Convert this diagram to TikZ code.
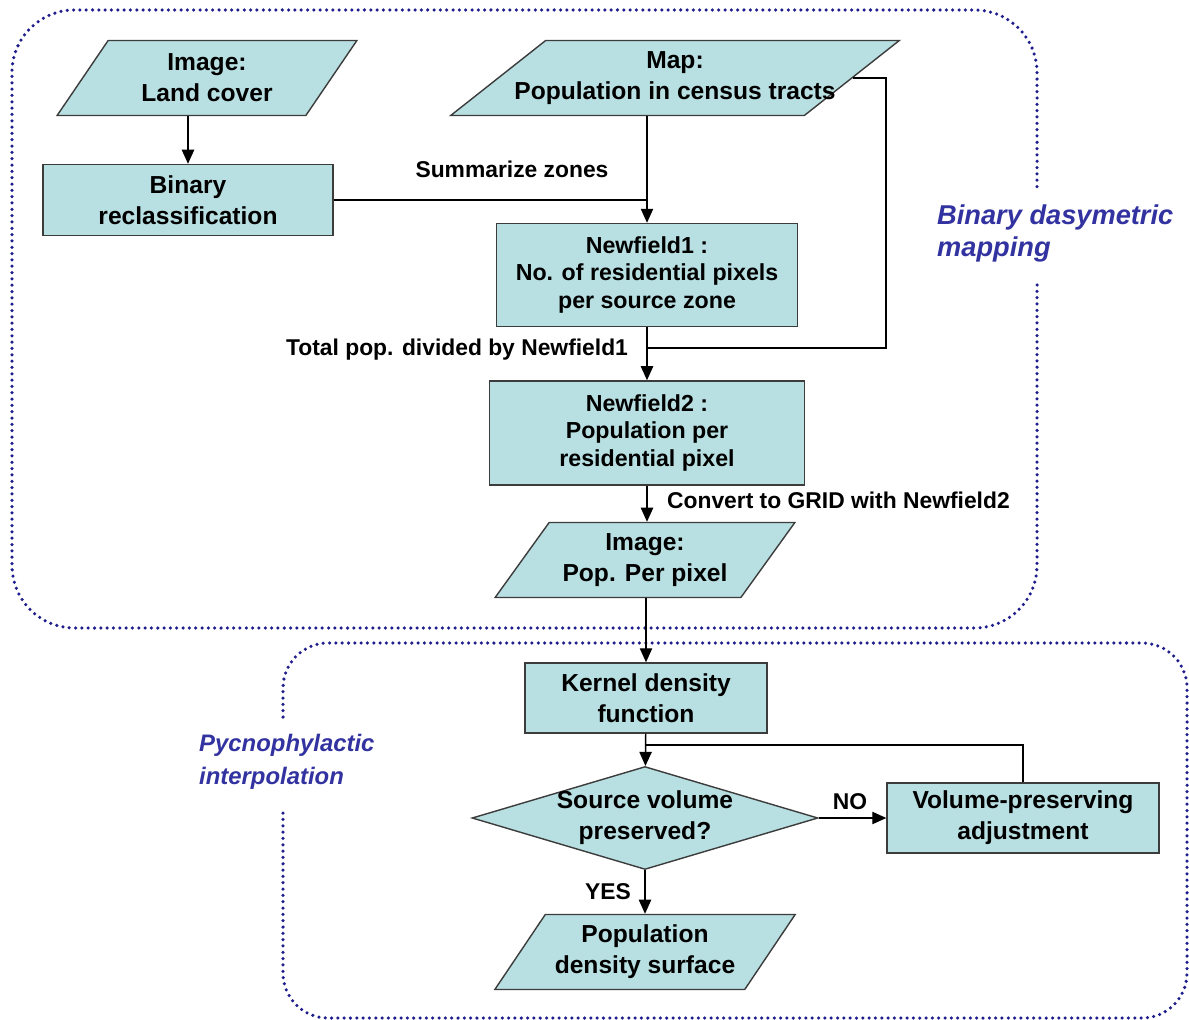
\documentclass[tikz,border=0pt]{standalone}
\usepackage{fontspec}
\setmainfont{Liberation Sans}
\usetikzlibrary{shapes.geometric, positioning, arrows.meta}

\definecolor{boxfill}{RGB}{184,223,225}
\definecolor{boxline}{RGB}{60,60,60}
\definecolor{framedots}{RGB}{30,30,140}
\definecolor{areatext}{RGB}{50,50,160}

\tikzset{
  box/.style={draw=boxline, fill=boxfill, rectangle, line width=0.8pt,
    align=center, inner sep=2pt, font=\fontsize{14}{17.5}\selectfont\bfseries},
  threelines/.style={font=\fontsize{13.2}{15.6}\selectfont\bfseries},
  datashape/.style 2 args={box, trapezium, trapezium stretches=true,
    trapezium left angle=#1, trapezium right angle=#2},
  decision/.style={box, diamond, aspect=3.36, inner xsep=-4pt, inner ysep=0pt},
  flow/.style={draw=black, line width=0.8pt, -{Triangle[length=8pt,width=7pt]}},
  joinline/.style={draw=black, line width=0.8pt},
  steplabel/.style={font=\fontsize{13}{15}\selectfont\bfseries, inner sep=1pt},
  arealabel/.style={text=areatext, align=left},
  frame/.style={draw=framedots, line width=2pt, line cap=round,
    dash pattern=on 0pt off 3.6pt}
}

\begin{document}
\begin{tikzpicture}[x=0.02cm, y=-0.02cm]
  \useasboundingbox (0,0) rectangle (1189,1020);

  % dotted areas
  \draw[frame, rounded corners=1.25cm] (1037,285) -- (1037,628) -- (12,628)
    -- (12,10) -- (1037,10) -- (1037,190);
  \draw[frame, rounded corners=0.9cm] (283,717) -- (283,643) -- (1187,643)
    -- (1187,1018) -- (283,1018) -- (283,812);

  \node[arealabel, anchor=west, font=\fontsize{15.5}{18.2}\selectfont\bfseries\itshape]
    (dasy) at (931,233) {Binary dasymetric\\mapping};
  \node[arealabel, anchor=west, font=\fontsize{13.6}{18.6}\selectfont\bfseries\itshape]
    (pycno) at (193,762) {Pycnophylactic\\interpolation};

  % binary dasymetric mapping
  \node[datashape={57}{123}, minimum width=6cm, minimum height=1.5cm]
    (landcover) at (207,78) {Image:\\Land cover};
  \node[datashape={39}{141}, inner xsep=-1.2cm, minimum width=9cm, minimum height=1.5cm]
    (map) at (675,78) {Map:\\Population in census tracts};
  \node[box, minimum width=5.8cm, minimum height=1.42cm]
    (binary) at (188,200) {Binary\\reclassification};
  \node[box, threelines, minimum width=6.02cm, minimum height=2.06cm]
    (nf1) at (647,275) {Newfield1 :\\No. of residential pixels\\per source zone};
  \node[box, threelines, minimum width=6.3cm, minimum height=2.08cm, below of=nf1, node distance=3.16cm]
    (nf2) {Newfield2 :\\Population per\\residential pixel};
  \node[datashape={51}{129}, minimum width=6cm, minimum height=1.5cm]
    (popimg) at (645,560) {Image:\\Pop. Per pixel};

  % pycnophylactic interpolation
  \node[box, minimum width=4.84cm, minimum height=1.4cm]
    (kernel) at (646,698) {Kernel density\\function};
  \node[decision, minimum width=6.92cm, minimum height=2.06cm]
    (check) at (645,818) {Source volume\\preserved?};
  \node[box, minimum width=5.44cm, minimum height=1.4cm]
    (adjust) at (1023,818) {Volume-preserving\\adjustment};
  \node[datashape={52}{128}, minimum width=6.02cm, minimum height=1.5cm]
    (surface) at (645,952) {Population\\density surface};

  \coordinate (mapjoin) at (886,348);
  \coordinate (kerneljoin) at (646,745);

  \draw[flow] (binary.north |- landcover.south) -- (binary.north);
  \draw[flow] (map.south -| nf1.north) -- (nf1.north);
  \draw[joinline] (binary.east) -- (binary.east -| nf1.north);
  \draw[joinline] (map.east) -| (mapjoin) -- (nf1.south |- mapjoin);
  \draw[flow] (nf1) -- (nf2);
  \draw[flow] (nf2.south) -- (nf2.south |- popimg.north);
  \draw[flow] (popimg.south -| kernel.north) -- (kernel.north);
  \draw[flow] (kernel) -- (check);
  \draw[flow] (check) -- (adjust);
  \draw[joinline] (adjust.north) |- (kerneljoin);
  \draw[flow] (check) -- (check.south |- surface.north);

  \node[steplabel] (summ) at (512,169) {Summarize zones};
  \node[steplabel, anchor=east] (divide) at (630,350) {Total pop. divided by Newfield1};
  \node[steplabel, anchor=west] (grid) at (665,500) {Convert to GRID with Newfield2};
  \node[steplabel] (no) at (850,802) {NO};
  \node[steplabel] (yes) at (608,892) {YES};
\end{tikzpicture}
\end{document}
